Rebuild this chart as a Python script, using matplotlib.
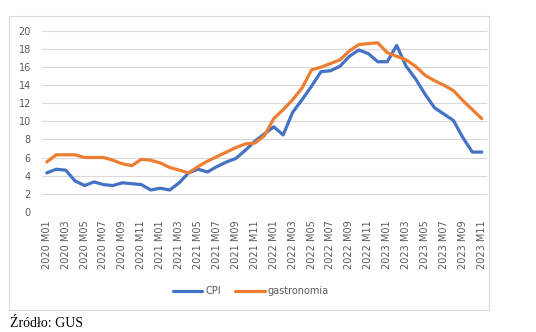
import matplotlib.pyplot as plt
from matplotlib.patches import Rectangle

# months 2020 M01 .. 2023 M11
months = [f"{y} M{m:02d}" for y in range(2020, 2024) for m in range(1, 13)][:47]

cpi = [
    4.3, 4.7, 4.6, 3.4, 2.9, 3.3, 3.0, 2.9, 3.2, 3.1, 3.0, 2.4,
    2.6, 2.4, 3.2, 4.3, 4.7, 4.4, 5.0, 5.5, 5.9, 6.8, 7.8, 8.6,
    9.4, 8.5, 11.0, 12.4, 13.9, 15.5, 15.6, 16.1, 17.2, 17.9, 17.5, 16.6,
    16.6, 18.4, 16.1, 14.7, 13.0, 11.5, 10.8, 10.1, 8.2, 6.6, 6.6,
]
gastronomia = [
    5.5, 6.3, 6.3, 6.3, 6.0, 6.0, 6.0, 5.7, 5.3, 5.1, 5.8, 5.7,
    5.4, 4.9, 4.6, 4.3, 5.0, 5.6, 6.1, 6.6, 7.1, 7.5, 7.6, 8.4,
    10.3, 11.3, 12.4, 13.7, 15.7, 16.0, 16.4, 16.8, 17.8, 18.5, 18.6, 18.7,
    17.6, 17.2, 16.8, 16.1, 15.1, 14.5, 14.0, 13.4, 12.3, 11.3, 10.3,
]

plt.rcParams["font.family"] = ["DejaVu Sans"]

fig = plt.figure(figsize=(5.36, 3.32), dpi=100)
ax = fig.add_axes([0.0784, 0.3623, 0.8293, 0.5443])

x = list(range(len(months)))
ax.plot(x, cpi, color="#4472C4", lw=2.3, label="CPI", solid_capstyle="round")
ax.plot(x, gastronomia, color="#ED7D31", lw=2.3, label="gastronomia", solid_capstyle="round")

ax.set_xlim(-0.5, len(months) - 0.5)
ax.set_ylim(0, 20)
ax.set_yticks(range(0, 21, 2))
ax.set_xticks(x[::2])
ax.set_xticklabels(months[::2], rotation=90)
ax.tick_params(axis="both", length=0, labelsize=7, colors="#595959")
ax.tick_params(axis="x", pad=6)
ax.tick_params(axis="y", pad=8)
ax.grid(axis="y", color="#D9D9D9", lw=0.8)
ax.set_axisbelow(True)
for s in ax.spines.values():
    s.set_visible(False)

ax.legend(loc="center", bbox_to_anchor=(0.468, 0.123), bbox_transform=fig.transFigure,
          ncol=2, frameon=False, fontsize=7, handlelength=3.0, handletextpad=0.3,
          columnspacing=1.5, labelcolor="#595959")

# outer chart border
fig.patches.append(Rectangle((9 / 536, 1 - 310 / 332), 480 / 536, 294 / 332,
                             transform=fig.transFigure, fill=False,
                             edgecolor="#D9D9D9", lw=0.8))

fig.text(10 / 536, 2 / 332, "Źródło: GUS", family="Liberation Serif",
         fontsize=10, va="bottom", ha="left", color="black")

fig.savefig("out.png", dpi=100)
